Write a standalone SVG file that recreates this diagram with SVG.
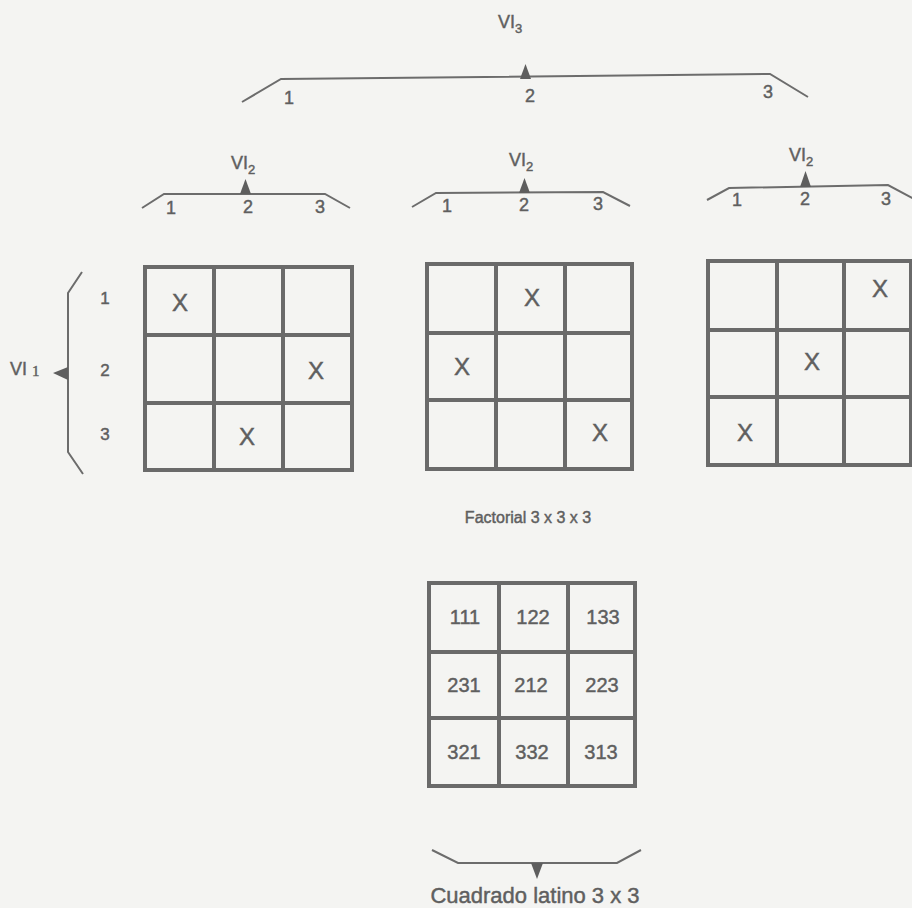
<svg xmlns="http://www.w3.org/2000/svg" width="912" height="908" viewBox="0 0 912 908">
<style>
.ln{fill:none;stroke:#6c6c6c;stroke-width:2;stroke-linejoin:miter}
.g{fill:none;stroke:#6a6a6a;stroke-width:4;stroke-linecap:square}
.tri{fill:#5e5e5e}
text{font-family:"Liberation Sans",Arial,sans-serif;fill:#5f5f5f;stroke:#5f5f5f;stroke-width:0.45}
.x{font-size:24px;text-anchor:middle}
.n{font-size:20px;text-anchor:middle}
.lb{font-size:18px;text-anchor:middle}
.rl{font-size:17px;text-anchor:middle}
.vi{font-size:18px}
.sub{font-size:13px}
.cap{font-size:16px;text-anchor:middle}
.cap2{font-size:22px;text-anchor:middle}
</style>
<rect width="912" height="908" fill="#f4f4f2"/>

<g id="connectors">
<!-- VI3 bracket -->
<polyline class="ln" points="242,102 281,79 770,74 808,97"/>
<polygon class="tri" points="520,79 531,79 525.5,64"/>
<!-- VI2 brackets -->
<polyline class="ln" points="142,208 164,194 325,194 350,208"/>
<polygon class="tri" points="240,194 251,194 245.5,179"/>
<polyline class="ln" points="412,207 436,193 603,192 630,206"/>
<polygon class="tri" points="519,193 530,193 524.5,178"/>
<polyline class="ln" points="707,200 729,188 888,185 914,199"/>
<polygon class="tri" points="800,187 811,187 805.5,171"/>
<!-- VI1 brace -->
<polyline class="ln" points="82,272 68,293 68,452 83,474"/>
<polygon class="tri" points="68,367 68,380 53,373"/>
<!-- bottom bracket -->
<polyline class="ln" points="432,850 458,863 617,863 641,850"/>
<polygon class="tri" points="531,863 543,863 537,879"/>
</g>

<g id="VI3">
<text class="vi" x="498" y="28">VI<tspan class="sub" dy="5">3</tspan></text>
<text class="lb" x="289" y="104">1</text>
<text class="lb" x="530" y="102">2</text>
<text class="lb" x="768" y="98">3</text>
</g>

<g id="VI2-a">
<text class="vi" x="231" y="169">VI<tspan class="sub" dy="5">2</tspan></text>
<text class="lb" x="171" y="214">1</text>
<text class="lb" x="248" y="213">2</text>
<text class="lb" x="320" y="213">3</text>
</g>
<g id="VI2-b">
<text class="vi" x="509" y="166">VI<tspan class="sub" dy="5">2</tspan></text>
<text class="lb" x="447" y="212">1</text>
<text class="lb" x="524" y="211">2</text>
<text class="lb" x="598" y="210">3</text>
</g>
<g id="VI2-c">
<text class="vi" x="789" y="161">VI<tspan class="sub" dy="5">2</tspan></text>
<text class="lb" x="737" y="206">1</text>
<text class="lb" x="805" y="205">2</text>
<text class="lb" x="886" y="205">3</text>
</g>

<g id="VI1">
<text class="vi" x="10" y="375">VI<tspan dx="5" dy="1" style="font-family:'Liberation Serif',serif;font-size:15px">1</tspan></text>
<text class="rl" x="105" y="304">1</text>
<text class="rl" x="105" y="376">2</text>
<text class="rl" x="105" y="440">3</text>
</g>

<g id="grid1">
<rect class="g" x="145" y="267" width="207" height="203"/>
<line class="g" x1="214" y1="267" x2="214" y2="470"/>
<line class="g" x1="283" y1="267" x2="283" y2="470"/>
<line class="g" x1="145" y1="335" x2="352" y2="335"/>
<line class="g" x1="145" y1="403" x2="352" y2="403"/>
<text class="x" x="180" y="311">X</text>
<text class="x" x="316" y="379">X</text>
<text class="x" x="247" y="445">X</text>
</g>

<g id="grid2">
<rect class="g" x="427" y="264" width="205" height="205"/>
<line class="g" x1="496" y1="264" x2="496" y2="469"/>
<line class="g" x1="565" y1="264" x2="565" y2="469"/>
<line class="g" x1="427" y1="333" x2="632" y2="333"/>
<line class="g" x1="427" y1="400" x2="632" y2="400"/>
<text class="x" x="532" y="306">X</text>
<text class="x" x="462" y="375">X</text>
<text class="x" x="600" y="441">X</text>
</g>

<g id="grid3">
<rect class="g" x="708" y="261" width="203" height="204"/>
<line class="g" x1="777" y1="261" x2="777" y2="465"/>
<line class="g" x1="844" y1="261" x2="844" y2="465"/>
<line class="g" x1="708" y1="330" x2="911" y2="330"/>
<line class="g" x1="708" y1="397" x2="911" y2="397"/>
<text class="x" x="880" y="297">X</text>
<text class="x" x="812" y="370">X</text>
<text class="x" x="745" y="441">X</text>
</g>

<g id="factorial-label">
<text class="cap" x="528" y="523">Factorial 3 x 3 x 3</text>
</g>

<g id="latin-square">
<rect class="g" x="429" y="583" width="206" height="203"/>
<line class="g" x1="499" y1="583" x2="499" y2="786"/>
<line class="g" x1="568" y1="583" x2="568" y2="786"/>
<line class="g" x1="429" y1="652" x2="635" y2="652"/>
<line class="g" x1="429" y1="718" x2="635" y2="718"/>
<text class="n" x="465" y="624">111</text>
<text class="n" x="533" y="624">122</text>
<text class="n" x="603" y="624">133</text>
<text class="n" x="464" y="692">231</text>
<text class="n" x="531" y="692">212</text>
<text class="n" x="602" y="692">223</text>
<text class="n" x="464" y="759">321</text>
<text class="n" x="532" y="759">332</text>
<text class="n" x="601" y="759">313</text>
</g>

<g id="latin-label">
<text class="cap2" x="535" y="903">Cuadrado latino 3 x 3</text>
</g>
</svg>
